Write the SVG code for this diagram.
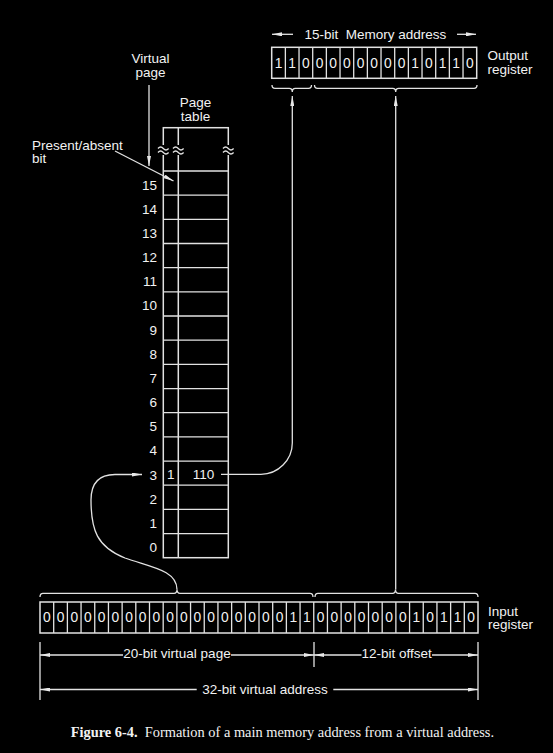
<svg xmlns="http://www.w3.org/2000/svg" width="553" height="753" viewBox="0 0 553 753">
<style>
.t{font-family:"Liberation Sans",Arial,sans-serif;font-size:13.5px;fill:#f2f2f2}
.m{text-anchor:middle}
.e{text-anchor:end}
.d{font-family:"Liberation Sans",Arial,sans-serif;font-size:13.8px;fill:#f2f2f2;text-anchor:middle}
.ln{stroke:#e2e2e2;stroke-width:1.3;fill:none}
.box{stroke:#e2e2e2;stroke-width:1.5;fill:none}
.cap{font-family:"Liberation Serif","Times New Roman",serif;font-size:14.4px;fill:#f2f2f2}
</style>
<defs>
<marker id="ah" viewBox="0 0 10 4" refX="10" refY="2" markerWidth="10" markerHeight="4" orient="auto-start-reverse" markerUnits="userSpaceOnUse">
<path d="M0,0 L10,2 L0,4 z" fill="#e8e8e8"/>
</marker>
</defs>
<rect width="553" height="753" fill="#000"/>

<g id="page-table">
<rect class="box" x="163.3" y="127.7" width="65" height="430"/>
<line class="box" x1="178.3" y1="127.7" x2="178.3" y2="557.7"/>
<path class="ln" d="M163.3,171H228.3M163.3,195.17H228.3M163.3,219.34H228.3M163.3,243.51H228.3M163.3,267.68H228.3M163.3,291.85H228.3M163.3,316.02H228.3M163.3,340.19H228.3M163.3,364.36H228.3M163.3,388.53H228.3M163.3,412.7H228.3M163.3,436.87H228.3M163.3,461.04H228.3M163.3,485.21H228.3M163.3,509.38H228.3M163.3,533.55H228.3"/>
<g id="breaks">
<rect x="157" y="145" width="77" height="10" fill="#000"/>
<path class="ln" d="M158,148.5q2.6,-3 5.3,0t5.3,0M158,152.5q2.6,-3 5.3,0t5.3,0"/>
<path class="ln" d="M173,148.5q2.6,-3 5.3,0t5.3,0M173,152.5q2.6,-3 5.3,0t5.3,0"/>
<path class="ln" d="M223,148.5q2.6,-3 5.3,0t5.3,0M223,152.5q2.6,-3 5.3,0t5.3,0"/>
</g>
<text class="t m" x="195.5" y="106.5">Page</text>
<text class="t m" x="195.5" y="120.5">table</text>
<text class="t m" x="170.8" y="479.3">1</text>
<text class="t m" x="203.5" y="479.3">110</text>
</g>

<g id="page-numbers" class="t e">
<text x="157" y="189.5">15</text>
<text x="157" y="213.7">14</text>
<text x="157" y="237.8">13</text>
<text x="157" y="262">12</text>
<text x="157" y="286.2">11</text>
<text x="157" y="310.4">10</text>
<text x="157" y="334.5">9</text>
<text x="157" y="358.7">8</text>
<text x="157" y="382.9">7</text>
<text x="157" y="407">6</text>
<text x="157" y="431.2">5</text>
<text x="157" y="455.4">4</text>
<text x="157" y="479.5">3</text>
<text x="157" y="503.7">2</text>
<text x="157" y="527.9">1</text>
<text x="157" y="552">0</text>
</g>

<g id="labels">
<text class="t m" x="150.5" y="63">Virtual</text>
<text class="t m" x="150.5" y="76.5">page</text>
<text class="t" x="32" y="149.5">Present/absent</text>
<text class="t" x="32" y="163">bit</text>
<text class="t" x="304.5" y="39.3" xml:space="preserve">15-bit  Memory address</text>
<text class="t" x="487.5" y="59.5">Output</text>
<text class="t" x="487.5" y="73.5">register</text>
<text class="t" x="488" y="615.5">Input</text>
<text class="t" x="488" y="629">register</text>
<text class="t m" x="177" y="658">20-bit virtual page</text>
<text class="t m" x="396.7" y="658">12-bit offset</text>
<text class="t m" x="265" y="693.5">32-bit virtual address</text>
</g>

<g id="output-register">
<rect class="box" x="271.7" y="47.3" width="205" height="31"/>
<path class="ln" d="M285.37,47.3V78.3M299.03,47.3V78.3M312.7,47.3V78.3M326.37,47.3V78.3M340.03,47.3V78.3M353.7,47.3V78.3M367.37,47.3V78.3M381.03,47.3V78.3M394.7,47.3V78.3M408.37,47.3V78.3M422.03,47.3V78.3M435.7,47.3V78.3M449.37,47.3V78.3M463.03,47.3V78.3"/>
<g class="d">
<text x="278.53" y="67.5">1</text><text x="292.2" y="67.5">1</text><text x="305.87" y="67.5">0</text>
<text x="319.53" y="67.5">0</text><text x="333.2" y="67.5">0</text><text x="346.87" y="67.5">0</text>
<text x="360.53" y="67.5">0</text><text x="374.2" y="67.5">0</text><text x="387.87" y="67.5">0</text>
<text x="401.53" y="67.5">0</text><text x="415.2" y="67.5">1</text><text x="428.87" y="67.5">0</text>
<text x="442.53" y="67.5">1</text><text x="456.2" y="67.5">1</text><text x="469.87" y="67.5">0</text>
</g>
</g>

<g id="input-register">
<rect class="box" x="40" y="602" width="438" height="31"/>
<path class="ln" d="M53.69,602V633M67.38,602V633M81.06,602V633M94.75,602V633M108.44,602V633M122.13,602V633M135.81,602V633M149.5,602V633M163.19,602V633M176.88,602V633M190.56,602V633M204.25,602V633M217.94,602V633M231.63,602V633M245.31,602V633M259,602V633M272.69,602V633M286.38,602V633M300.06,602V633M313.75,602V633M327.44,602V633M341.13,602V633M354.81,602V633M368.5,602V633M382.19,602V633M395.88,602V633M409.56,602V633M423.25,602V633M436.94,602V633M450.63,602V633M464.31,602V633"/>
<g class="d">
<text x="46.84" y="622">0</text><text x="60.53" y="622">0</text><text x="74.22" y="622">0</text><text x="87.91" y="622">0</text>
<text x="101.59" y="622">0</text><text x="115.28" y="622">0</text><text x="128.97" y="622">0</text><text x="142.66" y="622">0</text>
<text x="156.34" y="622">0</text><text x="170.03" y="622">0</text><text x="183.72" y="622">0</text><text x="197.41" y="622">0</text>
<text x="211.09" y="622">0</text><text x="224.78" y="622">0</text><text x="238.47" y="622">0</text><text x="252.16" y="622">0</text>
<text x="265.84" y="622">0</text><text x="279.53" y="622">0</text><text x="293.22" y="622">1</text><text x="306.91" y="622">1</text>
<text x="320.59" y="622">0</text><text x="334.28" y="622">0</text><text x="347.97" y="622">0</text><text x="361.66" y="622">0</text>
<text x="375.34" y="622">0</text><text x="389.03" y="622">0</text><text x="402.72" y="622">0</text><text x="416.41" y="622">1</text>
<text x="430.09" y="622">0</text><text x="443.78" y="622">1</text><text x="457.47" y="622">1</text><text x="471.16" y="622">0</text>
</g>
</g>

<g id="connectors">
<path class="ln" d="M272,85Q272,88.3 275,88.3H289.3Q292.3,88.3 292.3,92Q292.3,88.3 295.3,88.3H308.5Q311.5,88.3 311.5,85"/>
<path class="ln" d="M314.5,85Q314.5,88.3 317.5,88.3H392.7Q395.7,88.3 395.7,92Q395.7,88.3 398.7,88.3H474Q477,88.3 477,85"/>
<path class="ln" d="M40,597Q40,593.3 43,593.3H174Q177,593.3 177,589.5Q177,593.3 180,593.3H310Q313,593.3 313,597"/>
<path class="ln" d="M315,597Q315,593.3 318,593.3H392.5Q395.5,593.3 395.5,589.5Q395.5,593.3 398.5,593.3H475Q478,593.3 478,597"/>
<path class="ln" marker-end="url(#ah)" d="M221,474.3H261C278,474.3 292.3,460 292.3,443V96"/>
<path class="ln" marker-end="url(#ah)" d="M395.7,589.5V96"/>
<path class="ln" marker-end="url(#ah)" d="M177,589.5C177,570 150,567 125,558C97,547 91,530 91,500C91,482 100,474.5 115,474.5H142"/>
<path class="ln" marker-end="url(#ah)" d="M149,85V166"/>
<path class="ln" marker-end="url(#ah)" d="M115,151L173.5,181"/>
<path class="ln" marker-end="url(#ah)" d="M293,34.3H272"/>
<path class="ln" marker-end="url(#ah)" d="M457,34.3H476"/>
<path class="ln" d="M40,642V700M314,642V667M478,642V700"/>
<path class="ln" marker-start="url(#ah)" d="M40,655H123"/>
<path class="ln" marker-end="url(#ah)" d="M231,655H314"/>
<path class="ln" marker-start="url(#ah)" d="M314,655H361.5"/>
<path class="ln" marker-end="url(#ah)" d="M432,655H478"/>
<path class="ln" marker-start="url(#ah)" d="M40,689.5H196.7"/>
<path class="ln" marker-end="url(#ah)" d="M333.3,689.5H478"/>
</g>

<text class="cap" x="70.7" y="736.7" xml:space="preserve"><tspan font-weight="bold">Figure 6-4.</tspan>  Formation of a main memory address from a virtual address.</text>
</svg>
